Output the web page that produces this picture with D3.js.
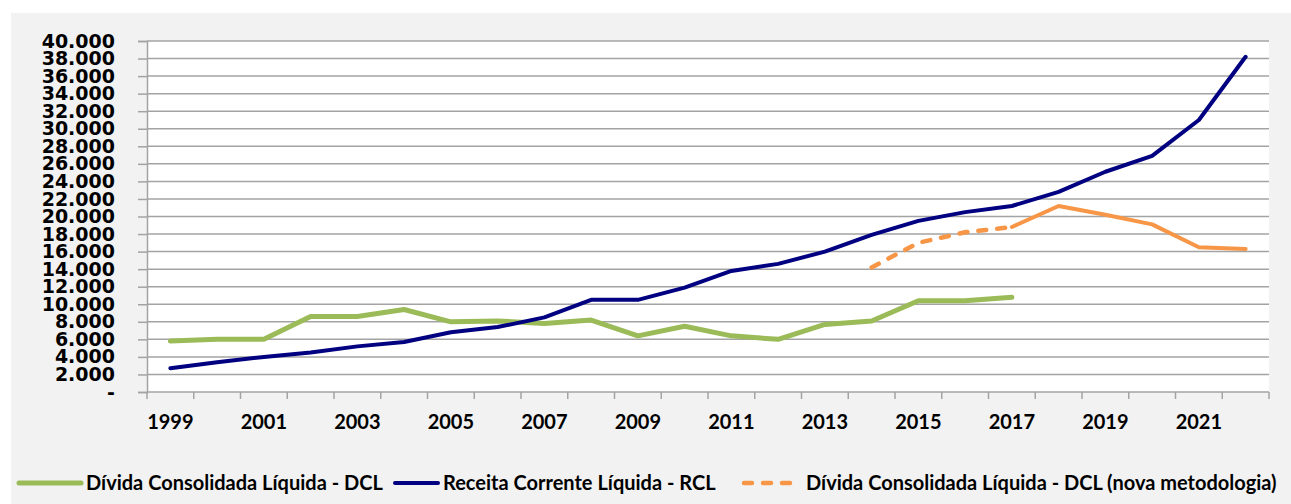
<!DOCTYPE html>
<html>
<head>
<meta charset="utf-8">
<script src="https://cdn.jsdelivr.net/npm/d3@7"></script>
<style>
  html, body { margin: 0; padding: 0; background: #fff; }
  svg { display: block; }
</style>
</head>
<body>
<div id="chart"></div>
<script>
const years = ['1999', '2000', '2001', '2002', '2003', '2004', '2005', '2006', '2007', '2008', '2009', '2010',
    '2011', '2012', '2013', '2014', '2015', '2016', '2017', '2018', '2019', '2020', '2021', '2022'];

// Dívida Consolidada Líquida - DCL (1999-2017)
const dclYears = years.slice(0, 19);
const dclValues = [5800, 6000, 6000, 8600, 8600, 9400, 8000, 8100, 7800, 8200, 6400, 7500,
    6400, 6000, 7700, 8100, 10400, 10400, 10800];

// Receita Corrente Líquida - RCL (1999-2022)
const rclValues = [2700, 3400, 4000, 4500, 5200, 5700, 6800, 7400, 8500, 10500, 10500, 11900,
    13800, 14600, 16000, 17900, 19500, 20500, 21200, 22800, 25100, 26900, 31000, 38200];

// DCL nova metodologia (2014-2022), tracejada até 2017
const novaYears = ['2014', '2015', '2016', '2017', '2018', '2019', '2020', '2021', '2022'];
const novaValues = [14200, 17000, 18200, 18800, 21200, 20200, 19100, 16500, 16300];
const novaDashedUntil = '2017';

const legendLabels = [
    'Dívida Consolidada Líquida - DCL',
    'Receita Corrente Líquida - RCL',
    'Dívida Consolidada Líquida - DCL (nova metodologia)'
];

const W = 1291, H = 504;
const margin = { left: 147, top: 41, right: 22, bottom: 112 };
const GREEN = '#9bbb59', NAVY = '#000080', ORANGE = '#f79646', GRID = '#a3a3a3';

const svg = d3.select('#chart').append('svg')
    .attr('width', W)
    .attr('height', H);

// background
svg.append('rect').attr('x', 11).attr('y', 13).attr('width', W - 11).attr('height', H - 13).attr('fill', '#f2f2f2');

const x = d3.scaleBand().domain(years).range([margin.left, W - margin.right]).padding(0);
const y = d3.scaleLinear().domain([0, 40000]).range([H - margin.bottom, margin.top]);

svg.append('rect')
    .attr('x', margin.left).attr('y', margin.top)
    .attr('width', x.range()[1] - margin.left)
    .attr('height', y(0) - margin.top)
    .attr('fill', '#fff');

const br = d3.formatLocale({ decimal: ',', thousands: '.', grouping: [3], currency: ['R$', ''] });
const fmt = br.format(',.0f');

// --- grid
svg.append('g').attr('class', 'grid')
    .selectAll('line')
    .data(y.ticks(20).filter(d => d > 0))
    .join('line')
    .attr('x1', margin.left).attr('x2', x.range()[1])
    .attr('y1', d => y(d)).attr('y2', d => y(d))
    .attr('stroke', GRID).attr('stroke-width', 1.5);

// --- y axis
const yAxis = d3.axisLeft(y).ticks(20).tickSize(9).tickPadding(23)
    .tickFormat(d => d === 0 ? '-' : fmt(d));
const gy = svg.append('g').attr('transform', `translate(${margin.left},0)`).call(yAxis);
gy.select('.domain').attr('stroke', GRID).attr('stroke-width', 1.5);
gy.selectAll('.tick line').attr('stroke', GRID).attr('stroke-width', 1.5);
gy.selectAll('.tick text')
    .attr('fill', '#000')
    .style('font-family', '"DejaVu Sans", sans-serif')
    .style('font-weight', 'bold')
    .style('font-size', '19px');

// --- x axis (ticks between categories, labels on odd years)
const gx = svg.append('g').attr('transform', `translate(0,${y(0)})`);
gx.append('line')
    .attr('x1', margin.left).attr('x2', x.range()[1])
    .attr('stroke', GRID).attr('stroke-width', 1.5);
gx.selectAll('line.tk')
    .data(years.concat(['end']))
    .join('line')
    .attr('class', 'tk')
    .attr('x1', d => d === 'end' ? x.range()[1] : x(d))
    .attr('x2', d => d === 'end' ? x.range()[1] : x(d))
    .attr('y1', 0).attr('y2', 7)
    .attr('stroke', GRID).attr('stroke-width', 1.5);
gx.selectAll('text')
    .data(years.filter((d, i) => i % 2 === 0))
    .join('text')
    .attr('x', d => x(d) + x.bandwidth() / 2)
    .attr('y', 37)
    .attr('text-anchor', 'middle')
    .style('font-family', 'Lato, sans-serif')
    .style('font-weight', 'bold')
    .style('font-size', '20px')
    .text(d => d);

// --- lines
const cx = d => x(d) + x.bandwidth() / 2;
const line = d3.line().x(d => cx(d[0])).y(d => y(d[1]));
const g = svg.append('g').attr('fill', 'none').attr('stroke-linejoin', 'round').attr('stroke-linecap', 'round');

const dclData = dclYears.map((yr, i) => [yr, dclValues[i]]);
const rclData = years.map((yr, i) => [yr, rclValues[i]]);
const novaData = novaYears.map((yr, i) => [yr, novaValues[i]]);
const cut = novaYears.indexOf(novaDashedUntil);

g.append('path').datum(dclData).attr('d', line).attr('stroke', GREEN).attr('stroke-width', 5);
g.append('path').datum(novaData.slice(cut)).attr('d', line).attr('stroke', ORANGE).attr('stroke-width', 4);
g.append('path').datum(novaData.slice(0, cut + 1)).attr('d', line).attr('stroke', ORANGE)
    .attr('stroke-width', 4.5).attr('stroke-dasharray', '8,11');
g.append('path').datum(rclData).attr('d', line).attr('stroke', NAVY).attr('stroke-width', 4);

// --- legend
const legendY = 483;
const legendItems = [
    { color: GREEN, w: 5, x0: 19, x1: 81, dash: null, tx: 86 },
    { color: NAVY, w: 4, x0: 395, x1: 438, dash: null, tx: 443 },
    { color: ORANGE, w: 4.5, x0: 744, x1: 796, dash: '8,11', tx: 806 }
];
const lg = svg.append('g');
legendItems.forEach((it, i) => {
    lg.append('line')
        .attr('x1', it.x0).attr('x2', it.x1).attr('y1', legendY).attr('y2', legendY)
        .attr('stroke', it.color).attr('stroke-width', it.w)
        .attr('stroke-linecap', 'round')
        .attr('stroke-dasharray', it.dash);
    lg.append('text')
        .attr('x', it.tx).attr('y', legendY + 7)
        .style('font-family', 'Lato, sans-serif')
        .style('font-weight', 'bold')
        .style('font-size', '20px')
        .text(legendLabels[i]);
});
</script>
</body>
</html>
